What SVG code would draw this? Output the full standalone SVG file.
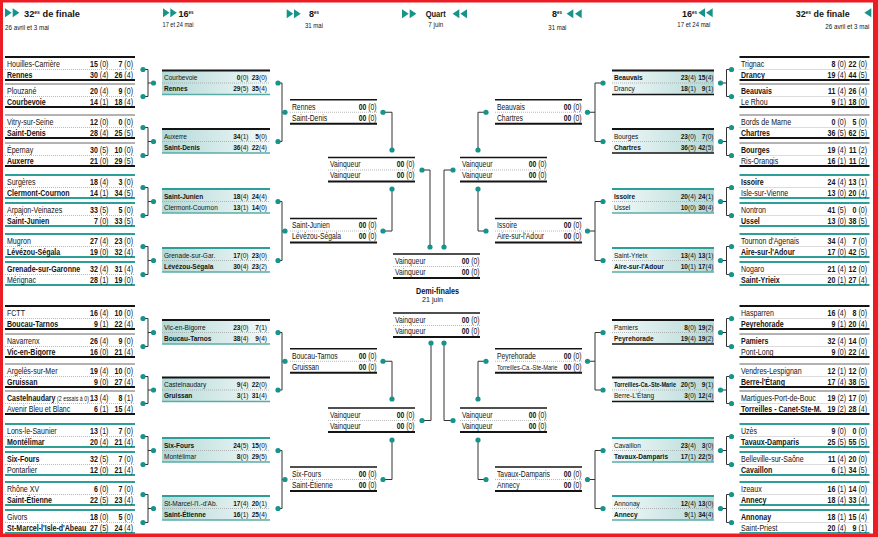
<svg xmlns="http://www.w3.org/2000/svg" xmlns:xlink="http://www.w3.org/1999/xlink" width="878" height="537" viewBox="0 0 878 537">
<style>
text{font-family:"Liberation Sans",Arial,sans-serif;fill:#141414}
.a{font-size:8.6px}
.c{font-size:8px}
.e{font-size:8.3px}
.b{font-weight:bold}
.s{text-anchor:end}
.h{font-size:9px;font-weight:bold}
.dt{font-size:7px}
.sp{stroke:#9c9c9c;stroke-width:.7;stroke-dasharray:1 1}
.k2{stroke:#141414;stroke-width:2}
.k15{stroke:#141414;stroke-width:1.6}
.k1{stroke:#666;stroke-width:1}
.g2{stroke:#2e9f98;stroke-width:1.8}
.g1{stroke:#5aaca7;stroke-width:1.3}
.cn{fill:none;stroke:#333;stroke-width:1}
.dot{fill:#16938a}
.tri{fill:#16938a}
</style>
<defs>
<linearGradient id="gl" x1="0" y1="0" x2="1" y2="0"><stop offset="0" stop-color="#b3d9d7"/><stop offset="1" stop-color="#f3f9f9"/></linearGradient>
<linearGradient id="gr" x1="0" y1="0" x2="1" y2="0"><stop offset="0" stop-color="#f3f9f9"/><stop offset="1" stop-color="#b3d9d7"/></linearGradient>
<g id="fk1"><line class="k2" x2="130"/><line class="sp" y1="12.5" x2="130" y2="12.5"/><line class="k2" y1="23" x2="130" y2="23"/></g>
<g id="fk"><line class="k1" x2="130"/><line class="sp" y1="12.5" x2="130" y2="12.5"/><line class="k2" y1="23" x2="130" y2="23"/></g>
<g id="fg"><line class="g2" x2="130"/><line class="sp" y1="12.5" x2="130" y2="12.5"/><line class="g2" y1="23" x2="130" y2="23"/></g>
<g id="hkL"><rect width="108" height="24" fill="url(#gl)"/><line class="k2" x2="108"/><line class="sp" y1="12.5" x2="108" y2="12.5"/><line class="g1" y1="24" x2="108" y2="24"/></g>
<g id="hgL"><rect width="108" height="24" fill="url(#gl)"/><line class="g2" x2="108"/><line class="sp" y1="12.5" x2="108" y2="12.5"/><line class="g1" y1="24" x2="108" y2="24"/></g>
<g id="hkR"><rect width="102" height="24" fill="url(#gr)"/><line class="k2" x2="102"/><line class="sp" y1="12.5" x2="102" y2="12.5"/><line class="k15" y1="24" x2="102" y2="24"/></g>
<g id="hgR"><rect width="102" height="24" fill="url(#gr)"/><line class="g2" x2="102"/><line class="sp" y1="12.5" x2="102" y2="12.5"/><line class="g1" y1="24" x2="102" y2="24"/></g>
<g id="f8"><line class="k15" x2="87"/><line class="sp" y1="12.5" x2="87" y2="12.5"/><line class="k2" y1="24" x2="87" y2="24"/></g>
</defs>
<rect width="878" height="537" fill="#fff"/>
<path d="M0 0H878V537H0Z M3 2.5H873V533.5H3Z" fill="#ec1c24" fill-rule="evenodd"/>

<g id="headers">
<polygon class="tri" points="5,8.3 11.7,12.8 5,17.3"/><polygon class="tri" points="12.7,8.3 19.4,12.8 12.7,17.3"/>
<text class="h" x="24" y="16.5" textLength="56" lengthAdjust="spacingAndGlyphs">32<tspan font-size="5" dy="-3">es</tspan><tspan dy="3"> de finale</tspan></text>
<text class="dt" x="5" y="29.5" textLength="44" lengthAdjust="spacingAndGlyphs">26 avril et 3 mai</text>
<polygon class="tri" points="163,8.3 169.5,12.8 163,17.3"/><polygon class="tri" points="170.3,8.3 176.8,12.8 170.3,17.3"/>
<text class="h" x="178.5" y="16.5" font-size="8">16<tspan font-size="4.5" dy="-3">es</tspan></text>
<text class="dt" x="162.5" y="26.5" textLength="31" lengthAdjust="spacingAndGlyphs">17 et 24 mai</text>
<polygon class="tri" points="286.7,9.3 293.3,13.8 286.7,18.3"/><polygon class="tri" points="294,9.3 300.7,13.8 294,18.3"/>
<text class="h" x="309" y="17" font-size="8">8<tspan font-size="4.5" dy="-3">es</tspan></text>
<text class="dt" x="305" y="28.2" textLength="18" lengthAdjust="spacingAndGlyphs">31 mai</text>
<polygon class="tri" points="402,9.3 408.7,13.8 402,18.3"/><polygon class="tri" points="409.7,9.3 416.4,13.8 409.7,18.3"/>
<text class="h" x="425.7" y="16.5" textLength="20" lengthAdjust="spacingAndGlyphs">Quart</text>
<polygon class="tri" points="459.3,9.3 452.6,13.8 459.3,18.3"/><polygon class="tri" points="467,9.3 460.3,13.8 467,18.3"/>
<text class="dt" x="428.3" y="26.5" textLength="15" lengthAdjust="spacingAndGlyphs">7 juin</text>
<text class="h" x="552" y="17" font-size="8">8<tspan font-size="4.5" dy="-3">es</tspan></text>
<polygon class="tri" points="573.3,9.3 566.6,13.8 573.3,18.3"/><polygon class="tri" points="581.7,9.3 575,13.8 581.7,18.3"/>
<text class="dt" x="548.3" y="30" textLength="18" lengthAdjust="spacingAndGlyphs">31 mai</text>
<text class="h" x="682" y="16.5" font-size="8">16<tspan font-size="4.5" dy="-3">es</tspan></text>
<polygon class="tri" points="705,8.3 698.3,12.8 705,17.3"/><polygon class="tri" points="712.7,8.3 706,12.8 712.7,17.3"/>
<text class="dt" x="677.3" y="26.5" textLength="33" lengthAdjust="spacingAndGlyphs">17 et 24 mai</text>
<text class="h" x="795.7" y="16.5" textLength="54" lengthAdjust="spacingAndGlyphs">32<tspan font-size="5" dy="-3">es</tspan><tspan dy="3"> de finale</tspan></text>
<polygon class="tri" points="871.3,8.3 864.3,12.8 871.3,17.3"/>
<text class="dt" x="825.3" y="28.5" textLength="44" lengthAdjust="spacingAndGlyphs">26 avril et 3 mai</text>
<text class="h" x="416" y="294" textLength="43" lengthAdjust="spacingAndGlyphs">Demi-finales</text>
<text class="dt" x="422" y="301.7" font-size="7.5" textLength="21" lengthAdjust="spacingAndGlyphs">21 juin</text>
</g>

<g id="connectors">
<path class="cn" d="M143 69.5H148V96.5H143M148 83H153.5M143 127.5H148V155.5H143M148 141.5H153.5M143 187.5H148V215.5H143M148 201.5H153.5M143 246.5H148V274.5H143M148 260.5H153.5M143 318.5H148V346.5H143M148 332.5H153.5M143 376.5H148V403.5H143M148 390H153.5M143 436.5H148V464.5H143M148 450.5H153.5M143 494.5H148V522.5H143M148 508.5H153.5"/>
<path class="cn" d="M278 83H282V141.5H278M282 112.25H285M278 201.5H282V260.5H278M282 231H285M278 332.5H282V390H278M282 361.25H285M278 450.5H282V508.5H278M282 479.5H285"/>
<path class="cn" d="M383 112.25H392V150M383 231H392V189M422 170H430V247M383 361.25H392V399M383 479.5H392V440M422 420.5H431V343"/>
<path class="cn" d="M486 112.25H478V150M486 231H478V189M453 170H444V247M486 361.25H478V399M486 479.5H478V440M453 420.5H444V343"/>
<path class="cn" d="M603 83H595V141.5H603M595 112.25H587.5M603 201.5H595V260.5H603M595 231H587.5M603 332.5H595V390H603M595 361.25H587.5M603 450.5H595V508.5H603M595 479.5H587.5"/>
<path class="cn" d="M731.5 69.5H726.5V96.5H731.5M726.5 83H720.5M731.5 127.5H726.5V155.5H731.5M726.5 141.5H720.5M731.5 187.5H726.5V215.5H731.5M726.5 201.5H720.5M731.5 246.5H726.5V274.5H731.5M726.5 260.5H720.5M731.5 318.5H726.5V346.5H731.5M726.5 332.5H720.5M731.5 376.5H726.5V403.5H731.5M726.5 390H720.5M731.5 436.5H726.5V464.5H731.5M726.5 450.5H720.5M731.5 494.5H726.5V522.5H731.5M726.5 508.5H720.5"/>
<g class="dot">
<circle cx="143" cy="69.5" r="2.6"/><circle cx="143" cy="96.5" r="2.6"/><circle cx="143" cy="127.5" r="2.6"/><circle cx="143" cy="155.5" r="2.6"/><circle cx="143" cy="187.5" r="2.6"/><circle cx="143" cy="215.5" r="2.6"/><circle cx="143" cy="246.5" r="2.6"/><circle cx="143" cy="274.5" r="2.6"/><circle cx="143" cy="318.5" r="2.6"/><circle cx="143" cy="346.5" r="2.6"/><circle cx="143" cy="376.5" r="2.6"/><circle cx="143" cy="403.5" r="2.6"/><circle cx="143" cy="436.5" r="2.6"/><circle cx="143" cy="464.5" r="2.6"/><circle cx="143" cy="494.5" r="2.6"/><circle cx="143" cy="522.5" r="2.6"/>
<circle cx="153.5" cy="83" r="2.6"/><circle cx="153.5" cy="141.5" r="2.6"/><circle cx="153.5" cy="201.5" r="2.6"/><circle cx="153.5" cy="260.5" r="2.6"/><circle cx="153.5" cy="332.5" r="2.6"/><circle cx="153.5" cy="390" r="2.6"/><circle cx="153.5" cy="450.5" r="2.6"/><circle cx="153.5" cy="508.5" r="2.6"/>
<circle cx="278" cy="83" r="2.6"/><circle cx="278" cy="141.5" r="2.6"/><circle cx="278" cy="201.5" r="2.6"/><circle cx="278" cy="260.5" r="2.6"/><circle cx="278" cy="332.5" r="2.6"/><circle cx="278" cy="390" r="2.6"/><circle cx="278" cy="450.5" r="2.6"/><circle cx="278" cy="508.5" r="2.6"/>
<circle cx="285" cy="112.25" r="2.6"/><circle cx="285" cy="231" r="2.6"/><circle cx="285" cy="361.25" r="2.6"/><circle cx="285" cy="479.5" r="2.6"/>
<circle cx="383" cy="112.25" r="2.6"/><circle cx="383" cy="231" r="2.6"/><circle cx="383" cy="361.25" r="2.6"/><circle cx="383" cy="479.5" r="2.6"/>
<circle cx="392" cy="150" r="2.6"/><circle cx="392" cy="189" r="2.6"/><circle cx="392" cy="399" r="2.6"/><circle cx="392" cy="440" r="2.6"/>
<circle cx="422" cy="170" r="2.6"/><circle cx="422" cy="420.5" r="2.6"/>
<circle cx="430" cy="247" r="2.6"/><circle cx="444" cy="247" r="2.6"/><circle cx="431" cy="343" r="2.6"/><circle cx="444" cy="343" r="2.6"/>
<circle cx="453" cy="170" r="2.6"/><circle cx="453" cy="420.5" r="2.6"/>
<circle cx="478" cy="150" r="2.6"/><circle cx="478" cy="189" r="2.6"/><circle cx="478" cy="399" r="2.6"/><circle cx="478" cy="440" r="2.6"/>
<circle cx="486" cy="112.25" r="2.6"/><circle cx="486" cy="231" r="2.6"/><circle cx="486" cy="361.25" r="2.6"/><circle cx="486" cy="479.5" r="2.6"/>
<circle cx="587.5" cy="112.25" r="2.6"/><circle cx="587.5" cy="231" r="2.6"/><circle cx="587.5" cy="361.25" r="2.6"/><circle cx="587.5" cy="479.5" r="2.6"/>
<circle cx="603" cy="83" r="2.6"/><circle cx="603" cy="141.5" r="2.6"/><circle cx="603" cy="201.5" r="2.6"/><circle cx="603" cy="260.5" r="2.6"/><circle cx="603" cy="332.5" r="2.6"/><circle cx="603" cy="390" r="2.6"/><circle cx="603" cy="450.5" r="2.6"/><circle cx="603" cy="508.5" r="2.6"/>
<circle cx="720.5" cy="83" r="2.6"/><circle cx="720.5" cy="141.5" r="2.6"/><circle cx="720.5" cy="201.5" r="2.6"/><circle cx="720.5" cy="260.5" r="2.6"/><circle cx="720.5" cy="332.5" r="2.6"/><circle cx="720.5" cy="390" r="2.6"/><circle cx="720.5" cy="450.5" r="2.6"/><circle cx="720.5" cy="508.5" r="2.6"/>
<circle cx="731.5" cy="69.5" r="2.6"/><circle cx="731.5" cy="96.5" r="2.6"/><circle cx="731.5" cy="127.5" r="2.6"/><circle cx="731.5" cy="155.5" r="2.6"/><circle cx="731.5" cy="187.5" r="2.6"/><circle cx="731.5" cy="215.5" r="2.6"/><circle cx="731.5" cy="246.5" r="2.6"/><circle cx="731.5" cy="274.5" r="2.6"/><circle cx="731.5" cy="318.5" r="2.6"/><circle cx="731.5" cy="346.5" r="2.6"/><circle cx="731.5" cy="376.5" r="2.6"/><circle cx="731.5" cy="403.5" r="2.6"/><circle cx="731.5" cy="436.5" r="2.6"/><circle cx="731.5" cy="464.5" r="2.6"/><circle cx="731.5" cy="494.5" r="2.6"/><circle cx="731.5" cy="522.5" r="2.6"/>
</g>
</g>

<g id="l32-01" transform="translate(5 57)"><use href="#fk1"/><g class="a" transform="scale(.82 1)"><text x="2.4" y="10">Houilles-Carrière</text><text class="s" x="126.2" y="10"><tspan class="b">15</tspan> (0)</text><text class="s" x="156.1" y="10"><tspan class="b">7</tspan> (0)</text><text class="b" x="2.4" y="21">Rennes</text><text class="s" x="126.2" y="21"><tspan class="b">30</tspan> (4)</text><text class="s" x="156.1" y="21"><tspan class="b">26</tspan> (4)</text></g></g>
<g id="l32-02" transform="translate(5 84)"><use href="#fk"/><g class="a" transform="scale(.82 1)"><text x="2.4" y="10">Plouzané</text><text class="s" x="126.2" y="10"><tspan class="b">20</tspan> (4)</text><text class="s" x="156.1" y="10"><tspan class="b">9</tspan> (0)</text><text class="b" x="2.4" y="21">Courbevoie</text><text class="s" x="126.2" y="21"><tspan class="b">14</tspan> (1)</text><text class="s" x="156.1" y="21"><tspan class="b">18</tspan> (4)</text></g></g>
<g id="l32-03" transform="translate(5 115)"><use href="#fk"/><g class="a" transform="scale(.82 1)"><text x="2.4" y="10">Vitry-sur-Seine</text><text class="s" x="126.2" y="10"><tspan class="b">12</tspan> (0)</text><text class="s" x="156.1" y="10"><tspan class="b">0</tspan> (0)</text><text class="b" x="2.4" y="21">Saint-Denis</text><text class="s" x="126.2" y="21"><tspan class="b">28</tspan> (4)</text><text class="s" x="156.1" y="21"><tspan class="b">25</tspan> (5)</text></g></g>
<g id="l32-04" transform="translate(5 143)"><use href="#fk"/><g class="a" transform="scale(.82 1)"><text x="2.4" y="10">Épernay</text><text class="s" x="126.2" y="10"><tspan class="b">30</tspan> (5)</text><text class="s" x="156.1" y="10"><tspan class="b">10</tspan> (0)</text><text class="b" x="2.4" y="21">Auxerre</text><text class="s" x="126.2" y="21"><tspan class="b">21</tspan> (0)</text><text class="s" x="156.1" y="21"><tspan class="b">29</tspan> (5)</text></g></g>
<g id="l32-05" transform="translate(5 175)"><use href="#fg"/><g class="a" transform="scale(.82 1)"><text x="2.4" y="10">Surgères</text><text class="s" x="126.2" y="10"><tspan class="b">18</tspan> (4)</text><text class="s" x="156.1" y="10"><tspan class="b">3</tspan> (0)</text><text class="b" x="2.4" y="21">Clermont-Cournon</text><text class="s" x="126.2" y="21"><tspan class="b">14</tspan> (1)</text><text class="s" x="156.1" y="21"><tspan class="b">34</tspan> (5)</text></g></g>
<g id="l32-06" transform="translate(5 203)"><use href="#fg"/><g class="a" transform="scale(.82 1)"><text x="2.4" y="10">Arpajon-Veinazes</text><text class="s" x="126.2" y="10"><tspan class="b">33</tspan> (5)</text><text class="s" x="156.1" y="10"><tspan class="b">5</tspan> (0)</text><text class="b" x="2.4" y="21">Saint-Junien</text><text class="s" x="126.2" y="21"><tspan class="b">7</tspan> (0)</text><text class="s" x="156.1" y="21"><tspan class="b">33</tspan> (5)</text></g></g>
<g id="l32-07" transform="translate(5 234)"><use href="#fg"/><g class="a" transform="scale(.82 1)"><text x="2.4" y="10">Mugron</text><text class="s" x="126.2" y="10"><tspan class="b">27</tspan> (4)</text><text class="s" x="156.1" y="10"><tspan class="b">23</tspan> (0)</text><text class="b" x="2.4" y="21">Lévézou-Ségala</text><text class="s" x="126.2" y="21"><tspan class="b">19</tspan> (0)</text><text class="s" x="156.1" y="21"><tspan class="b">32</tspan> (4)</text></g></g>
<g id="l32-08" transform="translate(5 262)"><use href="#fg"/><g class="a" transform="scale(.82 1)"><text class="b" x="2.4" y="10">Grenade-sur-Garonne</text><text class="s" x="126.2" y="10"><tspan class="b">32</tspan> (4)</text><text class="s" x="156.1" y="10"><tspan class="b">31</tspan> (4)</text><text x="2.4" y="21">Mérignac</text><text class="s" x="126.2" y="21"><tspan class="b">28</tspan> (1)</text><text class="s" x="156.1" y="21"><tspan class="b">19</tspan> (0)</text></g></g>
<g id="l32-09" transform="translate(5 306)"><use href="#fk1"/><g class="a" transform="scale(.82 1)"><text x="2.4" y="10">FCTT</text><text class="s" x="126.2" y="10"><tspan class="b">16</tspan> (4)</text><text class="s" x="156.1" y="10"><tspan class="b">10</tspan> (0)</text><text class="b" x="2.4" y="21">Boucau-Tarnos</text><text class="s" x="126.2" y="21"><tspan class="b">9</tspan> (1)</text><text class="s" x="156.1" y="21"><tspan class="b">22</tspan> (4)</text></g></g>
<g id="l32-10" transform="translate(5 334)"><use href="#fk"/><g class="a" transform="scale(.82 1)"><text x="2.4" y="10">Navarrenx</text><text class="s" x="126.2" y="10"><tspan class="b">26</tspan> (4)</text><text class="s" x="156.1" y="10"><tspan class="b">9</tspan> (0)</text><text class="b" x="2.4" y="21">Vic-en-Bigorre</text><text class="s" x="126.2" y="21"><tspan class="b">16</tspan> (0)</text><text class="s" x="156.1" y="21"><tspan class="b">21</tspan> (4)</text></g></g>
<g id="l32-11" transform="translate(5 364)"><use href="#fk"/><g class="a" transform="scale(.82 1)"><text x="2.4" y="10">Argelès-sur-Mer</text><text class="s" x="126.2" y="10"><tspan class="b">19</tspan> (4)</text><text class="s" x="156.1" y="10"><tspan class="b">10</tspan> (0)</text><text class="b" x="2.4" y="21">Gruissan</text><text class="s" x="126.2" y="21"><tspan class="b">9</tspan> (0)</text><text class="s" x="156.1" y="21"><tspan class="b">27</tspan> (4)</text></g></g>
<g id="l32-12" transform="translate(5 391)"><use href="#fk"/><g class="a" transform="scale(.82 1)"><text x="2.4" y="10"><tspan class="b">Castelnaudary</tspan><tspan font-size="6.5"> (2 essais à 0)</tspan></text><text class="s" x="126.2" y="10"><tspan class="b">13</tspan> (4)</text><text class="s" x="156.1" y="10"><tspan class="b">8</tspan> (1)</text><text x="2.4" y="21">Avenir Bleu et Blanc</text><text class="s" x="126.2" y="21"><tspan class="b">6</tspan> (1)</text><text class="s" x="156.1" y="21"><tspan class="b">15</tspan> (4)</text></g></g>
<g id="l32-13" transform="translate(5 424)"><use href="#fg"/><g class="a" transform="scale(.82 1)"><text x="2.4" y="10">Lons-le-Saunier</text><text class="s" x="126.2" y="10"><tspan class="b">13</tspan> (1)</text><text class="s" x="156.1" y="10"><tspan class="b">7</tspan> (0)</text><text class="b" x="2.4" y="21">Montélimar</text><text class="s" x="126.2" y="21"><tspan class="b">20</tspan> (4)</text><text class="s" x="156.1" y="21"><tspan class="b">21</tspan> (4)</text></g></g>
<g id="l32-14" transform="translate(5 452)"><use href="#fg"/><g class="a" transform="scale(.82 1)"><text class="b" x="2.4" y="10">Six-Fours</text><text class="s" x="126.2" y="10"><tspan class="b">32</tspan> (5)</text><text class="s" x="156.1" y="10"><tspan class="b">7</tspan> (0)</text><text x="2.4" y="21">Pontarlier</text><text class="s" x="126.2" y="21"><tspan class="b">12</tspan> (0)</text><text class="s" x="156.1" y="21"><tspan class="b">21</tspan> (4)</text></g></g>
<g id="l32-15" transform="translate(5 482)"><use href="#fg"/><g class="a" transform="scale(.82 1)"><text x="2.4" y="10">Rhône XV</text><text class="s" x="126.2" y="10"><tspan class="b">6</tspan> (0)</text><text class="s" x="156.1" y="10"><tspan class="b">7</tspan> (0)</text><text class="b" x="2.4" y="21">Saint-Étienne</text><text class="s" x="126.2" y="21"><tspan class="b">22</tspan> (5)</text><text class="s" x="156.1" y="21"><tspan class="b">23</tspan> (4)</text></g></g>
<g id="l32-16" transform="translate(5 510)"><use href="#fg"/><g class="a" transform="scale(.82 1)"><text x="2.4" y="10">Givors</text><text class="s" x="126.2" y="10"><tspan class="b">18</tspan> (0)</text><text class="s" x="156.1" y="10"><tspan class="b">5</tspan> (0)</text><text class="b" x="2.4" y="21">St-Marcel-l'Isle-d'Abeau</text><text class="s" x="126.2" y="21"><tspan class="b">27</tspan> (5)</text><text class="s" x="156.1" y="21"><tspan class="b">24</tspan> (4)</text></g></g>

<g id="r32-01" transform="translate(739.5 57)"><use href="#fk1"/><g class="a" transform="scale(.82 1)"><text x="1.8" y="10">Trignac</text><text class="s" x="129.9" y="10"><tspan class="b">8</tspan> (0)</text><text class="s" x="155.5" y="10"><tspan class="b">22</tspan> (0)</text><text class="b" x="1.8" y="21">Drancy</text><text class="s" x="129.9" y="21"><tspan class="b">19</tspan> (4)</text><text class="s" x="155.5" y="21"><tspan class="b">44</tspan> (5)</text></g></g>
<g id="r32-02" transform="translate(739.5 84)"><use href="#fk"/><g class="a" transform="scale(.82 1)"><text class="b" x="1.8" y="10">Beauvais</text><text class="s" x="129.9" y="10"><tspan class="b">11</tspan> (4)</text><text class="s" x="155.5" y="10"><tspan class="b">26</tspan> (4)</text><text x="1.8" y="21">Le Rhou</text><text class="s" x="129.9" y="21"><tspan class="b">9</tspan> (1)</text><text class="s" x="155.5" y="21"><tspan class="b">18</tspan> (0)</text></g></g>
<g id="r32-03" transform="translate(739.5 115)"><use href="#fk"/><g class="a" transform="scale(.82 1)"><text x="1.8" y="10">Bords de Marne</text><text class="s" x="129.9" y="10"><tspan class="b">0</tspan> (0)</text><text class="s" x="155.5" y="10"><tspan class="b">5</tspan> (0)</text><text class="b" x="1.8" y="21">Chartres</text><text class="s" x="129.9" y="21"><tspan class="b">36</tspan> (5)</text><text class="s" x="155.5" y="21"><tspan class="b">62</tspan> (5)</text></g></g>
<g id="r32-04" transform="translate(739.5 143)"><use href="#fk"/><g class="a" transform="scale(.82 1)"><text class="b" x="1.8" y="10">Bourges</text><text class="s" x="129.9" y="10"><tspan class="b">19</tspan> (4)</text><text class="s" x="155.5" y="10"><tspan class="b">11</tspan> (2)</text><text x="1.8" y="21">Ris-Orangis</text><text class="s" x="129.9" y="21"><tspan class="b">16</tspan> (1)</text><text class="s" x="155.5" y="21"><tspan class="b">11</tspan> (2)</text></g></g>
<g id="r32-05" transform="translate(739.5 175)"><use href="#fg"/><g class="a" transform="scale(.82 1)"><text class="b" x="1.8" y="10">Issoire</text><text class="s" x="129.9" y="10"><tspan class="b">24</tspan> (4)</text><text class="s" x="155.5" y="10"><tspan class="b">13</tspan> (1)</text><text x="1.8" y="21">Isle-sur-Vienne</text><text class="s" x="129.9" y="21"><tspan class="b">13</tspan> (0)</text><text class="s" x="155.5" y="21"><tspan class="b">20</tspan> (4)</text></g></g>
<g id="r32-06" transform="translate(739.5 203)"><use href="#fg"/><g class="a" transform="scale(.82 1)"><text x="1.8" y="10">Nontron</text><text class="s" x="129.9" y="10"><tspan class="b">41</tspan> (5)</text><text class="s" x="155.5" y="10"><tspan class="b">0</tspan> (0)</text><text class="b" x="1.8" y="21">Ussel</text><text class="s" x="129.9" y="21"><tspan class="b">13</tspan> (0)</text><text class="s" x="155.5" y="21"><tspan class="b">38</tspan> (5)</text></g></g>
<g id="r32-07" transform="translate(739.5 234)"><use href="#fg"/><g class="a" transform="scale(.82 1)"><text x="1.8" y="10">Tournon d'Agenais</text><text class="s" x="129.9" y="10"><tspan class="b">34</tspan> (4)</text><text class="s" x="155.5" y="10"><tspan class="b">7</tspan> (0)</text><text class="b" x="1.8" y="21">Aire-sur-l'Adour</text><text class="s" x="129.9" y="21"><tspan class="b">17</tspan> (0)</text><text class="s" x="155.5" y="21"><tspan class="b">42</tspan> (5)</text></g></g>
<g id="r32-08" transform="translate(739.5 262)"><use href="#fg"/><g class="a" transform="scale(.82 1)"><text x="1.8" y="10">Nogaro</text><text class="s" x="129.9" y="10"><tspan class="b">21</tspan> (4)</text><text class="s" x="155.5" y="10"><tspan class="b">12</tspan> (0)</text><text class="b" x="1.8" y="21">Saint-Yrieix</text><text class="s" x="129.9" y="21"><tspan class="b">20</tspan> (1)</text><text class="s" x="155.5" y="21"><tspan class="b">27</tspan> (4)</text></g></g>
<g id="r32-09" transform="translate(739.5 306)"><use href="#fk1"/><g class="a" transform="scale(.82 1)"><text x="1.8" y="10">Hasparren</text><text class="s" x="129.9" y="10"><tspan class="b">16</tspan> (4)</text><text class="s" x="155.5" y="10"><tspan class="b">8</tspan> (0)</text><text class="b" x="1.8" y="21">Peyrehorade</text><text class="s" x="129.9" y="21"><tspan class="b">9</tspan> (1)</text><text class="s" x="155.5" y="21"><tspan class="b">20</tspan> (4)</text></g></g>
<g id="r32-10" transform="translate(739.5 334)"><use href="#fk"/><g class="a" transform="scale(.82 1)"><text class="b" x="1.8" y="10">Pamiers</text><text class="s" x="129.9" y="10"><tspan class="b">32</tspan> (4)</text><text class="s" x="155.5" y="10"><tspan class="b">14</tspan> (0)</text><text x="1.8" y="21">Pont-Long</text><text class="s" x="129.9" y="21"><tspan class="b">9</tspan> (0)</text><text class="s" x="155.5" y="21"><tspan class="b">22</tspan> (4)</text></g></g>
<g id="r32-11" transform="translate(739.5 364)"><use href="#fk"/><g class="a" transform="scale(.82 1)"><text x="1.8" y="10">Vendres-Lespignan</text><text class="s" x="129.9" y="10"><tspan class="b">12</tspan> (1)</text><text class="s" x="155.5" y="10"><tspan class="b">12</tspan> (0)</text><text class="b" x="1.8" y="21">Berre-l'Étang</text><text class="s" x="129.9" y="21"><tspan class="b">17</tspan> (4)</text><text class="s" x="155.5" y="21"><tspan class="b">38</tspan> (5)</text></g></g>
<g id="r32-12" transform="translate(739.5 391)"><use href="#fk"/><g class="a" transform="scale(.82 1)"><text x="1.8" y="10">Martigues-Port-de-Bouc</text><text class="s" x="129.9" y="10"><tspan class="b">19</tspan> (2)</text><text class="s" x="155.5" y="10"><tspan class="b">17</tspan> (0)</text><text class="b" x="1.8" y="21">Torreilles - Canet-Ste-M.</text><text class="s" x="129.9" y="21"><tspan class="b">19</tspan> (2)</text><text class="s" x="155.5" y="21"><tspan class="b">28</tspan> (4)</text></g></g>
<g id="r32-13" transform="translate(739.5 424)"><use href="#fg"/><g class="a" transform="scale(.82 1)"><text x="1.8" y="10">Uzès</text><text class="s" x="129.9" y="10"><tspan class="b">9</tspan> (0)</text><text class="s" x="155.5" y="10"><tspan class="b">0</tspan> (0)</text><text class="b" x="1.8" y="21">Tavaux-Damparis</text><text class="s" x="129.9" y="21"><tspan class="b">25</tspan> (5)</text><text class="s" x="155.5" y="21"><tspan class="b">55</tspan> (5)</text></g></g>
<g id="r32-14" transform="translate(739.5 452)"><use href="#fg"/><g class="a" transform="scale(.82 1)"><text x="1.8" y="10">Belleville-sur-Saône</text><text class="s" x="129.9" y="10"><tspan class="b">11</tspan> (4)</text><text class="s" x="155.5" y="10"><tspan class="b">20</tspan> (0)</text><text class="b" x="1.8" y="21">Cavaillon</text><text class="s" x="129.9" y="21"><tspan class="b">6</tspan> (1)</text><text class="s" x="155.5" y="21"><tspan class="b">34</tspan> (5)</text></g></g>
<g id="r32-15" transform="translate(739.5 482)"><use href="#fg"/><g class="a" transform="scale(.82 1)"><text x="1.8" y="10">Izeaux</text><text class="s" x="129.9" y="10"><tspan class="b">16</tspan> (1)</text><text class="s" x="155.5" y="10"><tspan class="b">14</tspan> (0)</text><text class="b" x="1.8" y="21">Annecy</text><text class="s" x="129.9" y="21"><tspan class="b">18</tspan> (4)</text><text class="s" x="155.5" y="21"><tspan class="b">33</tspan> (4)</text></g></g>
<g id="r32-16" transform="translate(739.5 510)"><use href="#fg"/><g class="a" transform="scale(.82 1)"><text class="b" x="1.8" y="10">Annonay</text><text class="s" x="129.9" y="10"><tspan class="b">18</tspan> (1)</text><text class="s" x="155.5" y="10"><tspan class="b">15</tspan> (4)</text><text x="1.8" y="21">Saint-Priest</text><text class="s" x="129.9" y="21"><tspan class="b">20</tspan> (4)</text><text class="s" x="155.5" y="21"><tspan class="b">9</tspan> (1)</text></g></g>

<g id="l16-1" transform="translate(162 70.5)"><use href="#hkL"/><g class="c" transform="scale(.82 1)"><text x="2.4" y="10">Courbevoie</text><text class="s" x="105.5" y="10"><tspan class="b">0</tspan>(0)</text><text class="s" x="128" y="10"><tspan class="b">23</tspan>(0)</text><text class="b" x="2.4" y="21">Rennes</text><text class="s" x="105.5" y="21"><tspan class="b">29</tspan>(5)</text><text class="s" x="128" y="21"><tspan class="b">35</tspan>(4)</text></g></g>
<g id="l16-2" transform="translate(162 129)"><use href="#hkL"/><g class="c" transform="scale(.82 1)"><text x="2.4" y="10">Auxerre</text><text class="s" x="105.5" y="10"><tspan class="b">34</tspan>(1)</text><text class="s" x="128" y="10"><tspan class="b">5</tspan>(0)</text><text class="b" x="2.4" y="21">Saint-Denis</text><text class="s" x="105.5" y="21"><tspan class="b">36</tspan>(4)</text><text class="s" x="128" y="21"><tspan class="b">22</tspan>(4)</text></g></g>
<g id="l16-3" transform="translate(162 189)"><use href="#hgL"/><g class="c" transform="scale(.82 1)"><text class="b" x="2.4" y="10">Saint-Junien</text><text class="s" x="105.5" y="10"><tspan class="b">18</tspan>(4)</text><text class="s" x="128" y="10"><tspan class="b">24</tspan>(4)</text><text x="2.4" y="21">Clermont-Cournon</text><text class="s" x="105.5" y="21"><tspan class="b">13</tspan>(1)</text><text class="s" x="128" y="21"><tspan class="b">14</tspan>(0)</text></g></g>
<g id="l16-4" transform="translate(162 248)"><use href="#hgL"/><g class="c" transform="scale(.82 1)"><text x="2.4" y="10">Grenade-sur-Gar.</text><text class="s" x="105.5" y="10"><tspan class="b">17</tspan>(0)</text><text class="s" x="128" y="10"><tspan class="b">23</tspan>(0)</text><text class="b" x="2.4" y="21">Lévézou-Ségala</text><text class="s" x="105.5" y="21"><tspan class="b">30</tspan>(4)</text><text class="s" x="128" y="21"><tspan class="b">23</tspan>(2)</text></g></g>
<g id="l16-5" transform="translate(162 320)"><use href="#hkL"/><g class="c" transform="scale(.82 1)"><text x="2.4" y="10">Vic-en-Bigorre</text><text class="s" x="105.5" y="10"><tspan class="b">23</tspan>(0)</text><text class="s" x="128" y="10"><tspan class="b">7</tspan>(1)</text><text class="b" x="2.4" y="21">Boucau-Tarnos</text><text class="s" x="105.5" y="21"><tspan class="b">38</tspan>(4)</text><text class="s" x="128" y="21"><tspan class="b">9</tspan>(4)</text></g></g>
<g id="l16-6" transform="translate(162 377.5)"><use href="#hkL"/><g class="c" transform="scale(.82 1)"><text x="2.4" y="10">Castelnaudary</text><text class="s" x="105.5" y="10"><tspan class="b">9</tspan>(4)</text><text class="s" x="128" y="10"><tspan class="b">22</tspan>(0)</text><text class="b" x="2.4" y="21">Gruissan</text><text class="s" x="105.5" y="21"><tspan class="b">3</tspan>(1)</text><text class="s" x="128" y="21"><tspan class="b">31</tspan>(4)</text></g></g>
<g id="l16-7" transform="translate(162 438)"><use href="#hgL"/><g class="c" transform="scale(.82 1)"><text class="b" x="2.4" y="10">Six-Fours</text><text class="s" x="105.5" y="10"><tspan class="b">24</tspan>(5)</text><text class="s" x="128" y="10"><tspan class="b">15</tspan>(0)</text><text x="2.4" y="21">Montélimar</text><text class="s" x="105.5" y="21"><tspan class="b">8</tspan>(0)</text><text class="s" x="128" y="21"><tspan class="b">29</tspan>(5)</text></g></g>
<g id="l16-8" transform="translate(162 496)"><use href="#hgL"/><g class="c" transform="scale(.82 1)"><text x="2.4" y="10">St-Marcel-l'I.-d'Ab.</text><text class="s" x="105.5" y="10"><tspan class="b">17</tspan>(4)</text><text class="s" x="128" y="10"><tspan class="b">20</tspan>(1)</text><text class="b" x="2.4" y="21">Saint-Étienne</text><text class="s" x="105.5" y="21"><tspan class="b">16</tspan>(1)</text><text class="s" x="128" y="21"><tspan class="b">25</tspan>(4)</text></g></g>

<g id="r16-1" transform="translate(612 70.5)"><use href="#hkR"/><g class="c" transform="scale(.82 1)"><text class="b" x="2.4" y="10">Beauvais</text><text class="s" x="102.4" y="10"><tspan class="b">23</tspan>(4)</text><text class="s" x="123.8" y="10"><tspan class="b">15</tspan>(4)</text><text x="2.4" y="21">Drancy</text><text class="s" x="102.4" y="21"><tspan class="b">18</tspan>(1)</text><text class="s" x="123.8" y="21"><tspan class="b">9</tspan>(1)</text></g></g>
<g id="r16-2" transform="translate(612 129)"><use href="#hkR"/><g class="c" transform="scale(.82 1)"><text x="2.4" y="10">Bourges</text><text class="s" x="102.4" y="10"><tspan class="b">23</tspan>(0)</text><text class="s" x="123.8" y="10"><tspan class="b">7</tspan>(0)</text><text class="b" x="2.4" y="21">Chartres</text><text class="s" x="102.4" y="21"><tspan class="b">36</tspan>(5)</text><text class="s" x="123.8" y="21"><tspan class="b">42</tspan>(5)</text></g></g>
<g id="r16-3" transform="translate(612 189)"><use href="#hgR"/><g class="c" transform="scale(.82 1)"><text class="b" x="2.4" y="10">Issoire</text><text class="s" x="102.4" y="10"><tspan class="b">20</tspan>(4)</text><text class="s" x="123.8" y="10"><tspan class="b">24</tspan>(1)</text><text x="2.4" y="21">Ussel</text><text class="s" x="102.4" y="21"><tspan class="b">10</tspan>(0)</text><text class="s" x="123.8" y="21"><tspan class="b">30</tspan>(4)</text></g></g>
<g id="r16-4" transform="translate(612 248)"><use href="#hgR"/><g class="c" transform="scale(.82 1)"><text x="2.4" y="10">Saint-Yrieix</text><text class="s" x="102.4" y="10"><tspan class="b">13</tspan>(4)</text><text class="s" x="123.8" y="10"><tspan class="b">13</tspan>(1)</text><text class="b" x="2.4" y="21">Aire-sur-l'Adour</text><text class="s" x="102.4" y="21"><tspan class="b">10</tspan>(1)</text><text class="s" x="123.8" y="21"><tspan class="b">17</tspan>(4)</text></g></g>
<g id="r16-5" transform="translate(612 320)"><use href="#hkR"/><g class="c" transform="scale(.82 1)"><text x="2.4" y="10">Pamiers</text><text class="s" x="102.4" y="10"><tspan class="b">8</tspan>(0)</text><text class="s" x="123.8" y="10"><tspan class="b">19</tspan>(2)</text><text class="b" x="2.4" y="21">Peyrehorade</text><text class="s" x="102.4" y="21"><tspan class="b">19</tspan>(4)</text><text class="s" x="123.8" y="21"><tspan class="b">19</tspan>(2)</text></g></g>
<g id="r16-6" transform="translate(612 377.5)"><use href="#hkR"/><g class="c" transform="scale(.82 1)"><text class="b" x="2.4" y="10" font-size="6.8">Torreilles-Ca.-Ste-Marie</text><text class="s" x="102.4" y="10"><tspan class="b">20</tspan>(5)</text><text class="s" x="123.8" y="10"><tspan class="b">9</tspan>(1)</text><text x="2.4" y="21">Berre-L'Étang</text><text class="s" x="102.4" y="21"><tspan class="b">3</tspan>(0)</text><text class="s" x="123.8" y="21"><tspan class="b">12</tspan>(4)</text></g></g>
<g id="r16-7" transform="translate(612 438)"><use href="#hgR"/><g class="c" transform="scale(.82 1)"><text x="2.4" y="10">Cavaillon</text><text class="s" x="102.4" y="10"><tspan class="b">23</tspan>(4)</text><text class="s" x="123.8" y="10"><tspan class="b">3</tspan>(0)</text><text class="b" x="2.4" y="21">Tavaux-Damparis</text><text class="s" x="102.4" y="21"><tspan class="b">17</tspan>(1)</text><text class="s" x="123.8" y="21"><tspan class="b">22</tspan>(5)</text></g></g>
<g id="r16-8" transform="translate(612 496)"><use href="#hgR"/><g class="c" transform="scale(.82 1)"><text x="2.4" y="10">Annonay</text><text class="s" x="102.4" y="10"><tspan class="b">12</tspan>(4)</text><text class="s" x="123.8" y="10"><tspan class="b">13</tspan>(0)</text><text class="b" x="2.4" y="21">Annecy</text><text class="s" x="102.4" y="21"><tspan class="b">9</tspan>(1)</text><text class="s" x="123.8" y="21"><tspan class="b">34</tspan>(4)</text></g></g>

<g id="l8-1" transform="translate(290 99.75)"><use href="#f8"/><g class="e" transform="scale(.82 1)"><text x="2.4" y="10">Rennes</text><text class="s" x="105.5" y="10"><tspan class="b">00</tspan> (0)</text><text x="2.4" y="21">Saint-Denis</text><text class="s" x="105.5" y="21"><tspan class="b">00</tspan> (0)</text></g></g>
<g id="l8-2" transform="translate(290 218.5)"><use href="#f8"/><g class="e" transform="scale(.82 1)"><text x="2.4" y="10">Saint-Junien</text><text class="s" x="105.5" y="10"><tspan class="b">00</tspan> (0)</text><text x="2.4" y="21">Lévézou-Ségala</text><text class="s" x="105.5" y="21"><tspan class="b">00</tspan> (0)</text></g></g>
<g id="l8-3" transform="translate(290 348.75)"><use href="#f8"/><g class="e" transform="scale(.82 1)"><text x="2.4" y="10">Boucau-Tarnos</text><text class="s" x="105.5" y="10"><tspan class="b">00</tspan> (0)</text><text x="2.4" y="21">Gruissan</text><text class="s" x="105.5" y="21"><tspan class="b">00</tspan> (0)</text></g></g>
<g id="l8-4" transform="translate(290 467)"><use href="#f8"/><g class="e" transform="scale(.82 1)"><text x="2.4" y="10">Six-Fours</text><text class="s" x="105.5" y="10"><tspan class="b">00</tspan> (0)</text><text x="2.4" y="21">Saint-Étienne</text><text class="s" x="105.5" y="21"><tspan class="b">00</tspan> (0)</text></g></g>
<g id="r8-1" transform="translate(495 99.75)"><use href="#f8"/><g class="e" transform="scale(.82 1)"><text x="2.4" y="10">Beauvais</text><text class="s" x="105.5" y="10"><tspan class="b">00</tspan> (0)</text><text x="2.4" y="21">Chartres</text><text class="s" x="105.5" y="21"><tspan class="b">00</tspan> (0)</text></g></g>
<g id="r8-2" transform="translate(495 218.5)"><use href="#f8"/><g class="e" transform="scale(.82 1)"><text x="2.4" y="10">Issoire</text><text class="s" x="105.5" y="10"><tspan class="b">00</tspan> (0)</text><text x="2.4" y="21">Aire-sur-l'Adour</text><text class="s" x="105.5" y="21"><tspan class="b">00</tspan> (0)</text></g></g>
<g id="r8-3" transform="translate(495 348.75)"><use href="#f8"/><g class="e" transform="scale(.82 1)"><text x="2.4" y="10">Peyrehorade</text><text class="s" x="105.5" y="10"><tspan class="b">00</tspan> (0)</text><text x="2.4" y="21" font-size="7">Torreilles-Ca.-Ste-Marie</text><text class="s" x="105.5" y="21"><tspan class="b">00</tspan> (0)</text></g></g>
<g id="r8-4" transform="translate(495 467)"><use href="#f8"/><g class="e" transform="scale(.82 1)"><text x="2.4" y="10">Tavaux-Damparis</text><text class="s" x="105.5" y="10"><tspan class="b">00</tspan> (0)</text><text x="2.4" y="21">Annecy</text><text class="s" x="105.5" y="21"><tspan class="b">00</tspan> (0)</text></g></g>

<g id="lq-1" transform="translate(328 157.5)"><use href="#f8"/><g class="e" transform="scale(.82 1)"><text x="2.4" y="10">Vainqueur</text><text class="s" x="105.5" y="10"><tspan class="b">00</tspan> (0)</text><text x="2.4" y="21">Vainqueur</text><text class="s" x="105.5" y="21"><tspan class="b">00</tspan> (0)</text></g></g>
<g id="rq-1" transform="translate(460 157.5)"><use href="#f8"/><g class="e" transform="scale(.82 1)"><text x="2.4" y="10">Vainqueur</text><text class="s" x="105.5" y="10"><tspan class="b">00</tspan> (0)</text><text x="2.4" y="21">Vainqueur</text><text class="s" x="105.5" y="21"><tspan class="b">00</tspan> (0)</text></g></g>
<g id="lq-2" transform="translate(328 408)"><use href="#f8"/><g class="e" transform="scale(.82 1)"><text x="2.4" y="10">Vainqueur</text><text class="s" x="105.5" y="10"><tspan class="b">00</tspan> (0)</text><text x="2.4" y="21">Vainqueur</text><text class="s" x="105.5" y="21"><tspan class="b">00</tspan> (0)</text></g></g>
<g id="rq-2" transform="translate(460 408)"><use href="#f8"/><g class="e" transform="scale(.82 1)"><text x="2.4" y="10">Vainqueur</text><text class="s" x="105.5" y="10"><tspan class="b">00</tspan> (0)</text><text x="2.4" y="21">Vainqueur</text><text class="s" x="105.5" y="21"><tspan class="b">00</tspan> (0)</text></g></g>
<g id="demi-1" transform="translate(393 254)"><use href="#f8"/><g class="e" transform="scale(.82 1)"><text x="2.4" y="10">Vainqueur</text><text class="s" x="105.5" y="10"><tspan class="b">00</tspan> (0)</text><text x="2.4" y="21">Vainqueur</text><text class="s" x="105.5" y="21"><tspan class="b">00</tspan> (0)</text></g></g>
<g id="demi-2" transform="translate(393 313)"><use href="#f8"/><g class="e" transform="scale(.82 1)"><text x="2.4" y="10">Vainqueur</text><text class="s" x="105.5" y="10"><tspan class="b">00</tspan> (0)</text><text x="2.4" y="21">Vainqueur</text><text class="s" x="105.5" y="21"><tspan class="b">00</tspan> (0)</text></g></g>
</svg>
